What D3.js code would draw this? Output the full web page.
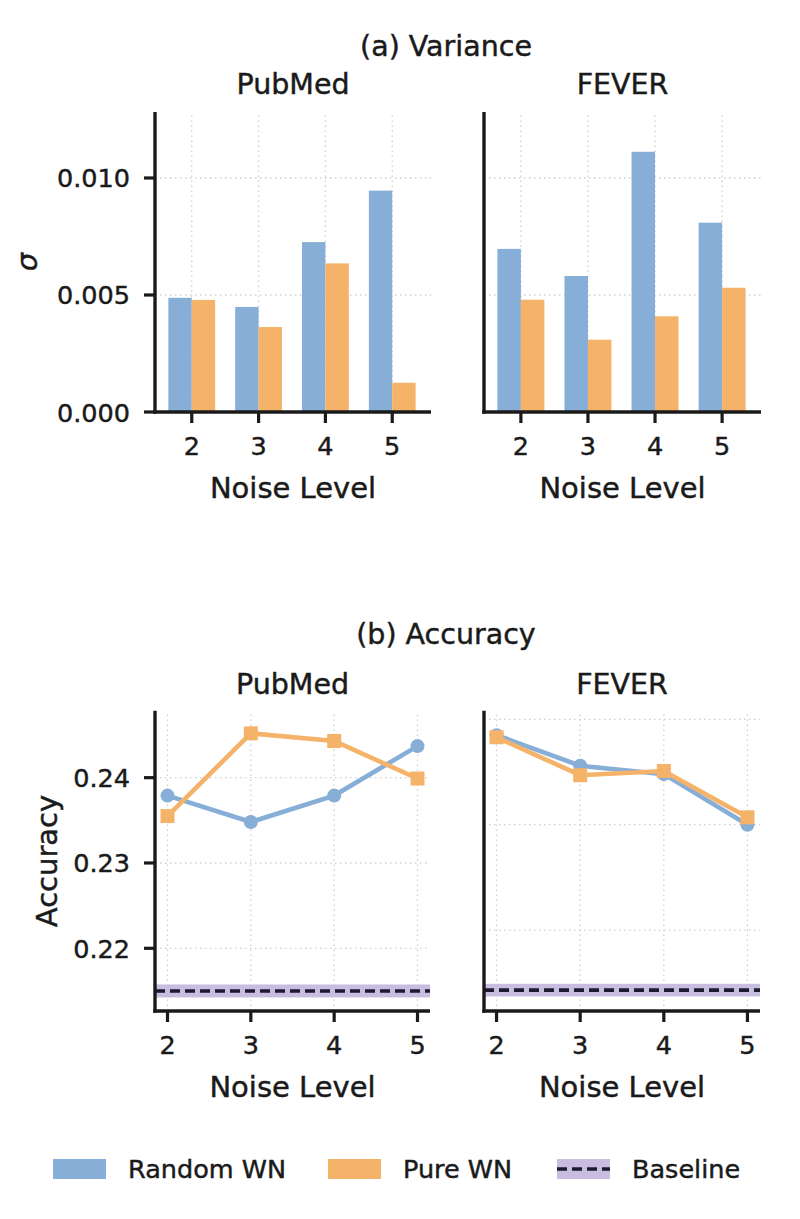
<!DOCTYPE html>
<html><head><meta charset="utf-8">
<script src="https://cdn.jsdelivr.net/npm/d3@7"></script>
<style>body{margin:0;background:#fff}svg{display:block;font-family:"DejaVu Sans",sans-serif}
text{stroke:#1a1a1a;stroke-width:0.45px;paint-order:stroke}</style>
</head><body>
<svg id="c" width="800" height="1219"></svg>
<script>
// ---------- data ----------
const noiseLevels = [2, 3, 4, 5];
const datasets = ["PubMed", "FEVER"];
const seriesNames = ["Random WN", "Pure WN"];
// (a) variance (sigma)
const varPubMedRandom = [0.00488, 0.00449, 0.00726, 0.00946];
const varPubMedPure   = [0.00479, 0.00363, 0.00635, 0.00125];
const varFeverRandom  = [0.00697, 0.00581, 0.01112, 0.00809];
const varFeverPure    = [0.00480, 0.00309, 0.00409, 0.00531];
const varTicks = [0.000, 0.005, 0.010];
// (b) accuracy
const accPubMedRandom = [0.2379, 0.2348, 0.2379, 0.2437];
const accPubMedPure   = [0.2355, 0.2452, 0.2443, 0.2399];
const accFeverRandom  = [0.2385, 0.2356, 0.2348, 0.2300];
const accFeverPure    = [0.2383, 0.2347, 0.2351, 0.2307];
const accTicks = [0.22, 0.23, 0.24];
const baselinePubMed = 0.215, baselinePubMedStd = 0.00076;
const baselineFever = 0.2143, baselineFeverStd = 0.0006;

// ---------- style ----------
const BLUE = "#87aed7", ORANGE = "#f5b369", PURPLE = "#c8bce0", INK = "#1a1a1a";
const TICK_FS = 25.5, LABEL_FS = 29, TITLE_FS = 28.5;
const svg = d3.select("#c");

function grid(g, x, y, xt, yt) {
  const [x0, x1] = x.range(), [y0, y1] = y.range();
  g.selectAll(".gx").data(xt).join("line")
    .attr("x1", d => x(d)).attr("x2", d => x(d)).attr("y1", y0).attr("y2", y1)
    .attr("stroke", "#cfcfcf").attr("stroke-width", 1.3).attr("stroke-dasharray", "1.5,3.5");
  g.selectAll(".gy").data(yt).join("line")
    .attr("x1", x0).attr("x2", x1).attr("y1", d => y(d)).attr("y2", d => y(d))
    .attr("stroke", "#cfcfcf").attr("stroke-width", 1.3).attr("stroke-dasharray", "1.5,3.5");
}

function axes(g, x, y, xt, xlab, yt, ylab, showY) {
  const [x0, x1] = x.range(), [y0, y1] = y.range();
  // x ticks
  g.selectAll(".xt").data(xt).join("line")
    .attr("x1", d => x(d.v)).attr("x2", d => x(d.v)).attr("y1", y0).attr("y2", y0 + 11)
    .attr("stroke", INK).attr("stroke-width", 3.2);
  g.selectAll(".xl").data(xt).join("text")
    .attr("x", d => x(d.v)).attr("y", y0 + 43).attr("text-anchor", "middle")
    .attr("font-size", TICK_FS).attr("fill", INK).text(d => d.t);
  g.append("text").attr("x", (x0 + x1) / 2).attr("y", y0 + 86).attr("text-anchor", "middle")
    .attr("font-size", LABEL_FS).attr("fill", INK).text(xlab);
  // y ticks
  g.selectAll(".yt").data(yt).join("line")
    .attr("x1", x0 - 11).attr("x2", x0).attr("y1", d => y(d.v)).attr("y2", d => y(d.v))
    .attr("stroke", INK).attr("stroke-width", 3.2).attr("display", showY ? null : "none");
  if (showY) {
    g.selectAll(".yl").data(yt).join("text")
      .attr("x", x0 - 25).attr("y", d => y(d.v) + 9.5).attr("text-anchor", "end")
      .attr("font-size", TICK_FS).attr("fill", INK).text(d => d.t);
  }
  // spines
  g.append("line").attr("x1", x0).attr("x2", x0).attr("y1", y0 + 1.7).attr("y2", y1)
    .attr("stroke", INK).attr("stroke-width", 3.4);
  g.append("line").attr("x1", x0 - 1.7).attr("x2", x1).attr("y1", y0).attr("y2", y0)
    .attr("stroke", INK).attr("stroke-width", 3.4);
}

function title(x, y, t, fs) {
  svg.append("text").attr("x", x).attr("y", y).attr("text-anchor", "middle")
    .attr("font-size", fs).attr("fill", INK).text(t);
}

// ---------- (a) Variance ----------
title(446, 56, "(a) Variance", TITLE_FS);
const varPanels = [
  { name: datasets[0], x0: 155, x1: 431, r: varPubMedRandom, p: varPubMedPure, showY: true },
  { name: datasets[1], x0: 484, x1: 761, r: varFeverRandom, p: varFeverPure, showY: false }
];
varPanels.forEach(P => {
  const g = svg.append("g");
  const x = d3.scaleLinear().domain([-0.55, 3.58]).range([P.x0, P.x1]);
  const y = d3.scaleLinear().domain([0, 0.01282]).range([412, 112]);
  const idx = noiseLevels.map((d, i) => i);
  grid(g, x, y, idx, varTicks);
  const bw = 0.35;
  g.selectAll(".br").data(P.r).join("rect")
    .attr("x", (d, i) => x(i - bw)).attr("width", x(bw) - x(0))
    .attr("y", d => y(d)).attr("height", d => y(0) - y(d)).attr("fill", BLUE);
  g.selectAll(".bp").data(P.p).join("rect")
    .attr("x", (d, i) => x(i)).attr("width", x(bw) - x(0))
    .attr("y", d => y(d)).attr("height", d => y(0) - y(d)).attr("fill", ORANGE);
  axes(g, x, y, noiseLevels.map((d, i) => ({ v: i, t: d })), "Noise Level",
    varTicks.map(v => ({ v, t: v.toFixed(3) })), "σ", P.showY);
  title((P.x0 + P.x1) / 2, 94, P.name, TITLE_FS);
  if (P.showY) {
    svg.append("text").attr("transform", `translate(37,${(112 + 412) / 2}) rotate(-90)`)
      .attr("text-anchor", "middle").attr("font-size", LABEL_FS).attr("font-style", "italic")
      .attr("fill", INK).text("σ");
  }
});

// ---------- (b) Accuracy ----------
title(446, 644, "(b) Accuracy", TITLE_FS);
const accPanels = [
  { name: datasets[0], x0: 155, x1: 430, r: accPubMedRandom, p: accPubMedPure, showY: true,
    dom: [0.21265, 0.24785], base: baselinePubMed, bstd: baselinePubMedStd },
  { name: datasets[1], x0: 484, x1: 760, r: accFeverRandom, p: accFeverPure, showY: false,
    dom: [0.21232, 0.24082], base: baselineFever, bstd: baselineFeverStd }
];
accPanels.forEach(P => {
  const g = svg.append("g");
  const x = d3.scaleLinear().domain([1.85, 5.15]).range([P.x0, P.x1]);
  const y = d3.scaleLinear().domain(P.dom).range([1011, 710.7]);
  grid(g, x, y, noiseLevels, accTicks);
  // baseline band + dashed line
  g.append("rect").attr("x", P.x0).attr("width", P.x1 - P.x0)
    .attr("y", y(P.base + P.bstd)).attr("height", y(P.base - P.bstd) - y(P.base + P.bstd))
    .attr("fill", PURPLE);
  g.append("line").attr("x1", P.x0).attr("x2", P.x1).attr("y1", y(P.base)).attr("y2", y(P.base))
    .attr("stroke", "#1c1a2e").attr("stroke-width", 3.6).attr("stroke-dasharray", "10,5");
  const line = d3.line().x((d, i) => x(noiseLevels[i])).y(d => y(d));
  g.append("path").attr("d", line(P.r)).attr("fill", "none").attr("stroke", BLUE).attr("stroke-width", 4.6);
  g.selectAll(".mr").data(P.r).join("circle")
    .attr("cx", (d, i) => x(noiseLevels[i])).attr("cy", d => y(d)).attr("r", 7).attr("fill", BLUE);
  g.append("path").attr("d", line(P.p)).attr("fill", "none").attr("stroke", ORANGE).attr("stroke-width", 4.6);
  g.selectAll(".mp").data(P.p).join("rect")
    .attr("x", (d, i) => x(noiseLevels[i]) - 7).attr("y", d => y(d) - 7)
    .attr("width", 14).attr("height", 14).attr("fill", ORANGE);
  axes(g, x, y, noiseLevels.map(d => ({ v: d, t: d })), "Noise Level",
    accTicks.map(v => ({ v, t: v.toFixed(2) })), "Accuracy", P.showY);
  title((P.x0 + P.x1) / 2, 694, P.name, TITLE_FS);
  if (P.showY) {
    svg.append("text").attr("transform", `translate(57,${(711 + 1011) / 2}) rotate(-90)`)
      .attr("text-anchor", "middle").attr("font-size", LABEL_FS).attr("fill", INK).text("Accuracy");
  }
});

// ---------- legend ----------
const legendItems = [
  { t: seriesNames[0], type: "patch", c: BLUE, x: 53 },
  { t: seriesNames[1], type: "patch", c: ORANGE, x: 328 },
  { t: "Baseline", type: "base", c: PURPLE, x: 557 }
];
const lg = svg.append("g");
legendItems.forEach(L => {
  lg.append("rect").attr("x", L.x).attr("y", 1159).attr("width", 53).attr("height", 20).attr("fill", L.c);
  if (L.type === "base") {
    lg.append("line").attr("x1", L.x).attr("x2", L.x + 53).attr("y1", 1169).attr("y2", 1169)
      .attr("stroke", "#1c1a2e").attr("stroke-width", 3.6).attr("stroke-dasharray", "10,5");
  }
  lg.append("text").attr("x", L.x + 75).attr("y", 1178).attr("font-size", TICK_FS)
    .attr("fill", INK).text(L.t);
});
</script>
</body></html>
